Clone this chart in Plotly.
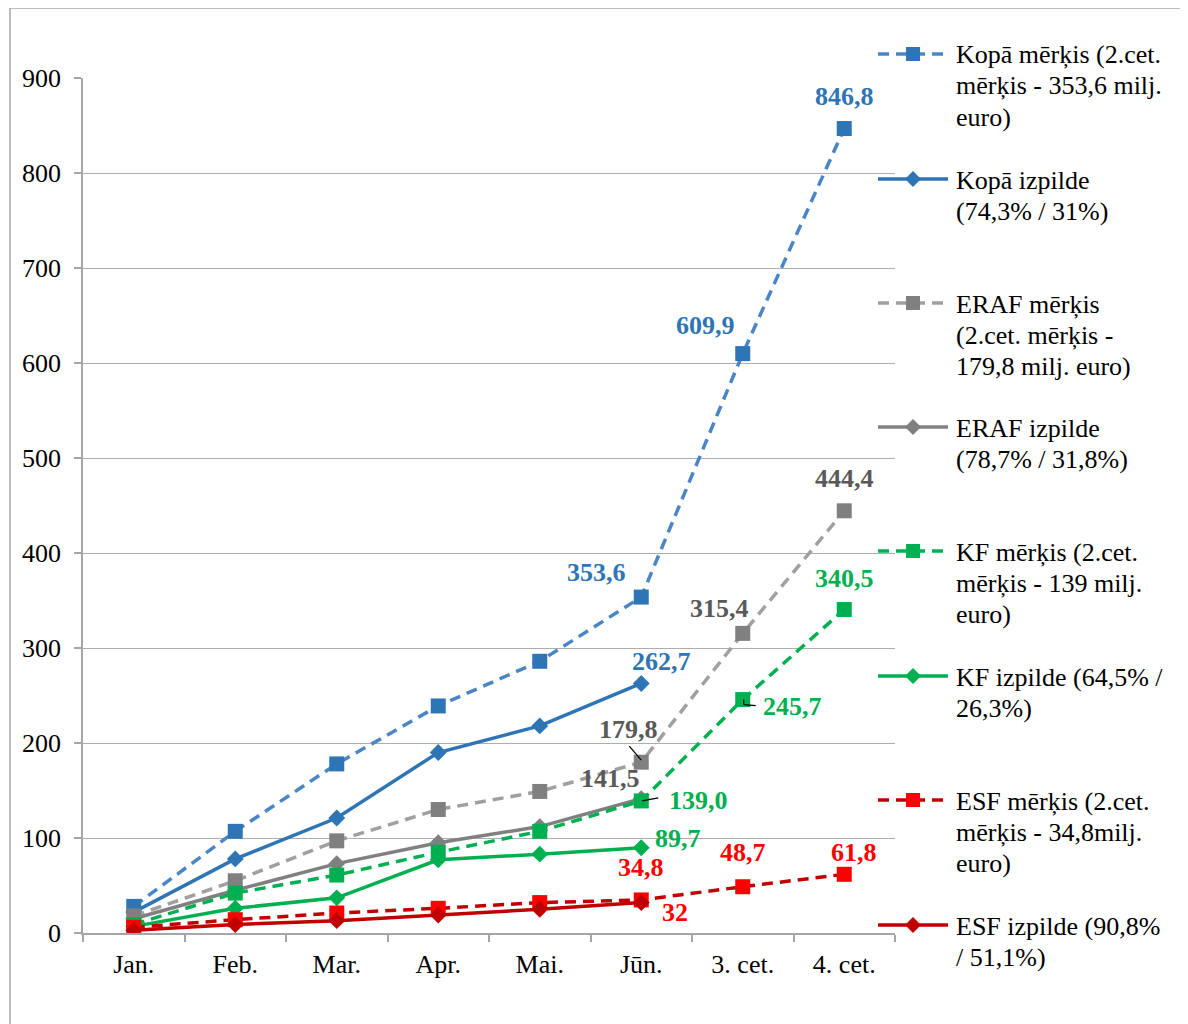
import plotly.graph_objects as go

# ---------------- data ----------------
categories = ["Jan.", "Feb.", "Mar.", "Apr.", "Mai.", "Jūn.", "3. cet.", "4. cet."]
y_ticks = [0, 100, 200, 300, 400, 500, 600, 700, 800, 900]

kopa_merkis = [28, 107, 178, 239, 286, 353.6, 609.9, 846.8]
kopa_izpilde = [22, 78, 121, 190, 218, 262.7]
eraf_merkis = [18, 55, 97, 130, 149, 179.8, 315.4, 444.4]
eraf_izpilde = [15, 45, 73, 95, 112, 141.5]
kf_merkis = [9, 42, 61, 85, 107, 139.0, 245.7, 340.5]
kf_izpilde = [7, 26, 37, 77, 83, 89.7]
esf_merkis = [6, 14, 21, 26, 32, 34.8, 48.7, 61.8]
esf_izpilde = [3, 9, 13, 19, 25, 32]

legend_names = [
    "Kopā mērķis (2.cet.\nmērķis - 353,6 milj.\neuro)",
    "Kopā izpilde\n(74,3% / 31%)",
    "ERAF mērķis\n(2.cet. mērķis -\n179,8 milj. euro)",
    "ERAF izpilde\n(78,7% / 31,8%)",
    "KF mērķis (2.cet.\nmērķis - 139 milj.\neuro)",
    "KF izpilde (64,5% /\n26,3%)",
    "ESF mērķis (2.cet.\nmērķis - 34,8milj.\neuro)",
    "ESF izpilde (90,8%\n/ 51,1%)",
]

# labelled points: (series index, category index, text)
label_points = [
    (0, 5, "353,6"), (0, 6, "609,9"), (0, 7, "846,8"),
    (1, 5, "262,7"),
    (2, 5, "179,8"), (2, 6, "315,4"), (2, 7, "444,4"),
    (3, 5, "141,5"),
    (4, 5, "139,0"), (4, 6, "245,7"), (4, 7, "340,5"),
    (5, 5, "89,7"),
    (6, 5, "34,8"), (6, 6, "48,7"), (6, 7, "61,8"),
    (7, 5, "32"),
]

# ---------------- styles ----------------
FONT = "Liberation Serif"
OFF = 8  # page body margin
W, H = 1180, 1016
ML, MR, MT, MB = 75, 293, 70, 91
PW, PH = W - ML - MR, H - MT - MB

series = [kopa_merkis, kopa_izpilde, eraf_merkis, eraf_izpilde,
          kf_merkis, kf_izpilde, esf_merkis, esf_izpilde]
line_colors = ["#4A86C6", "#2E75B6", "#A0A0A0", "#808080",
               "#00B050", "#00B050", "#C00000", "#C00000"]
marker_colors = ["#2E75B6", "#2E75B6", "#808080", "#808080",
                 "#00B050", "#00B050", "#FF0000", "#C00000"]
dashed = [True, False, True, False, True, False, True, False]
label_colors = ["#2E75B6", "#2E75B6", "#595959", "#595959",
                "#00B050", "#00B050", "#FF0000", "#FF0000"]
DASH = "11px,7px"
LW = 3.5

# label offsets in pixels (xshift, yshift) keyed by text
label_offsets = {
    "353,6": (-45, 25), "609,9": (-37, 28), "846,8": (0, 32),
    "262,7": (20, 22),
    "179,8": (-13, 33), "315,4": (-23, 25), "444,4": (0, 32),
    "141,5": (-31, 20),
    "139,0": (57, 0), "245,7": (50, -7), "340,5": (0, 31),
    "89,7": (37, 9),
    "34,8": (0, 32), "48,7": (0, 34), "61,8": (10, 22),
    "32": (34, -10),
}

fig = go.Figure()
for i, vals in enumerate(series):
    fig.add_trace(go.Scatter(
        x=categories[:len(vals)], y=vals, mode="lines+markers",
        name=legend_names[i].replace("\n", " "),
        line=dict(color=line_colors[i], width=LW, dash=DASH if dashed[i] else "solid"),
        marker=dict(symbol="square" if dashed[i] else "diamond",
                    size=15 if dashed[i] else 13, color=marker_colors[i],
                    line=dict(width=0)),
        showlegend=False, hoverinfo="skip",
    ))

annotations = []
for si, ci, txt in label_points:
    dx, dy = label_offsets[txt]
    annotations.append(dict(
        x=categories[ci], y=series[si][ci], xref="x", yref="y",
        text=txt, showarrow=False, xshift=dx, yshift=dy,
        xanchor="center", yanchor="middle",
        font=dict(family=FONT, size=26, color=label_colors[si], weight="bold"),
    ))


def px_x(px):
    return (px - OFF - ML) / PW


def px_y(py):
    return (H - MB - (py - OFF)) / PH


shapes = []
# outer chart border (extends past the picture)
shapes.append(dict(type="rect", xref="paper", yref="paper",
                   x0=px_x(10), x1=px_x(1400), y0=px_y(1300), y1=px_y(8),
                   line=dict(color="#A6A6A6", width=1.5), layer="below"))

# manual legend
legend_y = [54, 179, 303, 427, 551, 676, 800, 925]
LINE_H = 31
for i, name in enumerate(legend_names):
    yc = legend_y[i]
    shapes.append(dict(type="line", xref="paper", yref="paper",
                       x0=px_x(878), x1=px_x(948), y0=px_y(yc), y1=px_y(yc),
                       line=dict(color=line_colors[i], width=LW,
                                 dash=DASH if dashed[i] else "solid")))
    cx = 913
    if dashed[i]:
        shapes.append(dict(type="rect", xref="paper", yref="paper",
                           x0=px_x(cx - 7), x1=px_x(cx + 7),
                           y0=px_y(yc + 7), y1=px_y(yc - 7),
                           fillcolor=marker_colors[i], line=dict(width=0)))
    else:
        path = "M {:.5f},{:.5f} L {:.5f},{:.5f} L {:.5f},{:.5f} L {:.5f},{:.5f} Z".format(
            px_x(cx - 8), px_y(yc), px_x(cx), px_y(yc - 8),
            px_x(cx + 8), px_y(yc), px_x(cx), px_y(yc + 8))
        shapes.append(dict(type="path", xref="paper", yref="paper", path=path,
                           fillcolor=marker_colors[i], line=dict(width=0)))
    for k, line in enumerate(name.split("\n")):
        annotations.append(dict(
            x=px_x(955), y=px_y(yc + 1 + k * LINE_H), xref="paper", yref="paper",
            text=line, showarrow=False, xanchor="left", yanchor="middle",
            font=dict(family=FONT, size=26, color="#000000"), borderpad=0,
        ))

# leader lines (pixel offsets relative to the data point)
leaders = [
    (5, eraf_merkis[5], [(-12, 16, 0, 2)]),
    (5, kf_merkis[5], [(1, 0, 17, 3)]),
    (6, kf_merkis[6], [(1, 0, 1, -5), (1, -5, 13, -6)]),
]
for ci, val, segs in leaders:
    for x0, y0, x1, y1 in segs:
        shapes.append(dict(type="line", xref="x", yref="y",
                           xsizemode="pixel", ysizemode="pixel",
                           xanchor=ci, yanchor=val,
                           x0=x0, y0=y0, x1=x1, y1=y1,
                           line=dict(color="#000000", width=1.2)))

fig.update_layout(
    width=W, height=H,
    margin=dict(l=ML, r=MR, t=MT, b=MB, pad=0),
    paper_bgcolor="white", plot_bgcolor="white",
    font=dict(family=FONT, size=26, color="#000000"),
    shapes=shapes, annotations=annotations,
    showlegend=False,
)
fig.update_xaxes(
    type="category", categoryorder="array", categoryarray=categories,
    range=[-0.5, len(categories) - 0.5],
    showline=True, linecolor="#A6A6A6", linewidth=1.5,
    ticks="outside", tickson="boundaries", ticklen=7, tickcolor="#A6A6A6", tickwidth=1.5,
    showgrid=False, tickfont=dict(family=FONT, size=26, color="#000000"),
    ticklabelstandoff=7,
)
fig.update_yaxes(
    range=[0, 900], tickvals=y_ticks, ticktext=[str(v) for v in y_ticks],
    showline=True, linecolor="#A6A6A6", linewidth=1.5,
    ticks="outside", ticklen=7, tickcolor="#A6A6A6", tickwidth=1.5,
    showgrid=True, gridcolor="#ADADAD", gridwidth=1.2,
    zeroline=False, tickfont=dict(family=FONT, size=26, color="#000000"),
    ticklabelstandoff=8,
)

fig.write_html("out.html")
